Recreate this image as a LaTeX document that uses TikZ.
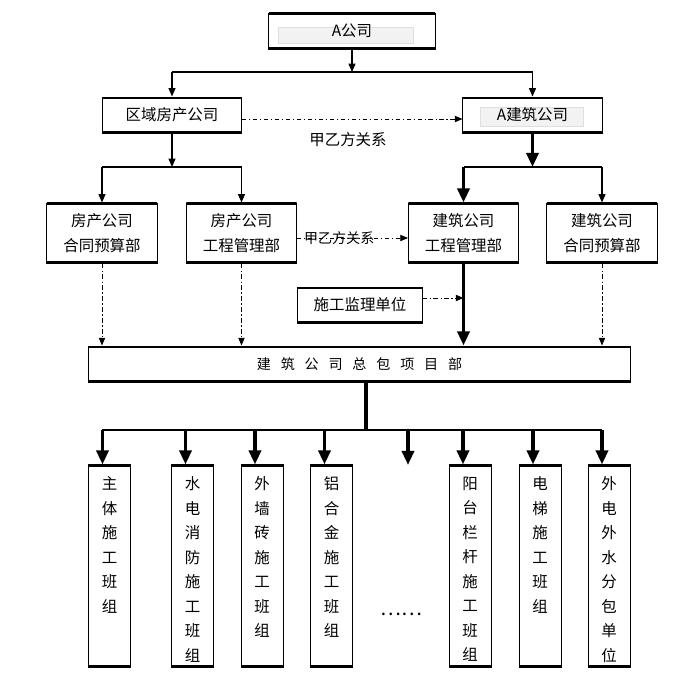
\documentclass[tikz,border=0pt]{standalone}
\usepackage{fontspec}
\setmainfont{Noto Sans CJK SC}
\usetikzlibrary{arrows.meta}

% one character per line, for the tall team boxes
\newcommand{\colstack}[1]{\parbox[c][4.45cm][t]{1.05cm}{\centering\fontsize{11pt}{17.4pt}\selectfont #1}}

\begin{document}
\begin{tikzpicture}[x=0.025cm, y=-0.025cm,
    every node/.style={font=\fontsize{11pt}{13pt}\selectfont},
    box/.style={draw, line width=0.7pt, inner sep=0pt, align=center,
        path picture={\draw[line width=2.6pt] (path picture bounding box.north west) -- (path picture bounding box.north east)
            (path picture bounding box.south west) -- (path picture bounding box.south east);}},
    head/.style={box, minimum width=3.475cm, minimum height=0.9cm},
    dept/.style={box, minimum width=2.75cm, minimum height=1.5cm, font=\fontsize{11pt}{17.5pt}\selectfont},
    team/.style={box, inner ysep=0.3cm},
    arrow/.style={line width=0.8pt, -{Triangle[length=6pt, width=5pt]}},
    heavy/.style={line width=2.6pt, -{Triangle[length=10pt, width=8.5pt]}},
    rel/.style={line width=0.6pt, dash pattern=on 3pt off 2pt on 0.8pt off 2pt, -{Triangle[length=5.5pt, width=4.5pt]}},
    bus/.style={line width=1.6pt}]

    \useasboundingbox (0,0) rectangle (679,679);

    % top level
    \fill[gray!10, draw=gray!25] (278,27) rectangle (413,43);
    \fill[gray!10, draw=gray!25] (480,107) rectangle (583,126);
    \node[box, minimum width=4.15cm, minimum height=0.9cm] (acomp) at (352,31) {A公司};
    \node[head] (quyu) at (172,115) {区域房产公司};
    \node[head] (jianzhu) at (532.5,115) {A建筑公司};

    \coordinate (bus1) at (352,72);
    \draw[arrow] (acomp) -- (bus1);
    \draw[bus] (bus1 -| quyu) -- (bus1 -| jianzhu);
    \draw[arrow] (bus1 -| quyu) -- (quyu);
    \draw[arrow] (bus1 -| jianzhu) -- (jianzhu);

    \draw[rel] ([yshift=-0.1cm]quyu.east) -- ([yshift=-0.1cm]jianzhu.west);
    \node (rel1) at (348,140) {甲乙方关系};

    % departments
    \node[dept] (fcht) at (102,233) {房产公司\\合同预算部};
    \node[dept] (fcgc) at (241.5,233) {房产公司\\工程管理部};
    \node[dept] (jzgc) at (463.5,233) {建筑公司\\工程管理部};
    \node[dept] (jzht) at (602,233) {建筑公司\\合同预算部};

    \coordinate (bus2l) at (172,167);
    \draw[arrow] (quyu) -- (bus2l);
    \draw[bus] (bus2l -| fcht) -- (bus2l -| fcgc);
    \draw[arrow] (bus2l -| fcht) -- (fcht);
    \draw[arrow] (bus2l -| fcgc) -- (fcgc);

    \coordinate (bus2r) at (532.5,167);
    \draw[heavy] (jianzhu) -- (bus2r);
    \draw[bus] (bus2r -| jzgc) -- (bus2r -| jzht);
    \draw[heavy] (bus2r -| jzgc) -- (jzgc);
    \draw[arrow] (bus2r -| jzht) -- (jzht);

    \draw[rel] ([yshift=-0.125cm]fcgc.east) -- ([yshift=-0.125cm]jzgc.west)
        node[pos=0.38, font=\fontsize{10pt}{12pt}\selectfont] (rel2) {甲乙方关系};

    % supervision and general contractor
    \node[box, minimum width=3.1cm, minimum height=0.9cm] (jianli) at (360,305) {施工监理单位};
    \node[box, minimum width=13.525cm, minimum height=0.9cm, font=\fontsize{10pt}{12pt}\selectfont] (zongbao) at (359.5,364)
        {建\kern7pt 筑\kern7pt 公\kern7pt 司\kern7pt 总\kern7pt 包\kern7pt 项\kern7pt 目\kern7pt 部};

    \draw[heavy] (jzgc) -- (jzgc |- zongbao.north);
    \coordinate (jl) at ([yshift=0.175cm]jianli.east);
    \draw[rel] (jl) -- (jl -| jzgc);
    \draw[rel] (fcht) -- (fcht |- zongbao.north);
    \draw[rel] (fcgc) -- (fcgc |- zongbao.north);
    \draw[rel] (jzht) -- (jzht |- zongbao.north);

    % teams
    \node[team] (t1) at (109.5,566) {\colstack{主\\体\\施\\工\\班\\组}};
    \node[team] (t2) at (192.5,566) {\colstack{水\\电\\消\\防\\施\\工\\班\\组}};
    \node[team] (t3) at (262,566) {\colstack{外\\墙\\砖\\施\\工\\班\\组}};
    \node[team] (t4) at (331.5,566) {\colstack{铝\\合\\金\\施\\工\\班\\组}};
    \node[font=\fontsize{14pt}{16pt}\selectfont] (dots) at (401,614) {……};
    \node[team] (t5) at (470,566) {\colstack{阳\\台\\栏\\杆\\施\\工\\班\\组}};
    \node[team] (t6) at (540,566) {\colstack{电\\梯\\施\\工\\班\\组}};
    \node[team] (t7) at (609,566) {\colstack{外\\电\\外\\水\\分\\包\\单\\位}};

    \coordinate (bus3) at (366,430);
    \coordinate (d1) at ([xshift=-0.175cm]t1.north);
    \coordinate (d2) at ([xshift=-0.175cm]t2.north);
    \coordinate (d3) at ([xshift=-0.175cm]t3.north);
    \coordinate (d4) at ([xshift=-0.175cm]t4.north);
    \coordinate (d5) at (408,465);
    \coordinate (d6) at ([xshift=-0.175cm]t5.north);
    \coordinate (d7) at ([xshift=-0.175cm]t6.north);
    \coordinate (d8) at ([xshift=-0.175cm]t7.north);

    \draw[line width=2.8pt] (zongbao.south -| bus3) -- ([yshift=-1pt]bus3);
    \draw[bus, line width=2pt] (bus3 -| d1) -- (bus3 -| d8);
    \draw[heavy] (bus3 -| d1) -- (d1);
    \draw[heavy] (bus3 -| d2) -- (d2);
    \draw[heavy] (bus3 -| d3) -- (d3);
    \draw[heavy] (bus3 -| d4) -- (d4);
    \draw[heavy] (bus3 -| d5) -- (d5);
    \draw[heavy] (bus3 -| d6) -- (d6);
    \draw[heavy] (bus3 -| d7) -- (d7);
    \draw[heavy] (bus3 -| d8) -- (d8);
\end{tikzpicture}
\end{document}
